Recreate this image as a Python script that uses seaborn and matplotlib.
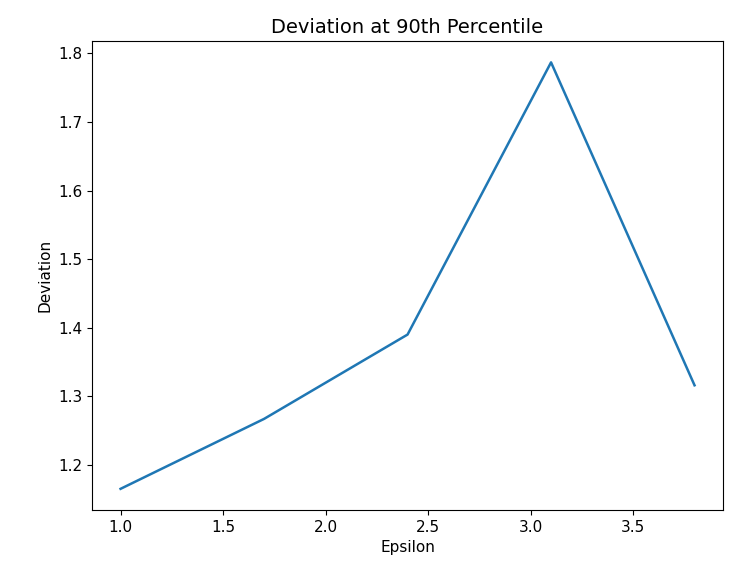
import matplotlib
matplotlib.use("Agg")
import matplotlib.pyplot as plt
import seaborn as sns
import pandas as pd

# values
epsilon = [1.0, 1.7, 2.4, 3.1, 3.8]
deviation = [1.165, 1.267, 1.390, 1.787, 1.316]

df = pd.DataFrame({"Epsilon": epsilon, "Deviation": deviation})

fig = plt.figure(figsize=(7.35, 5.7), dpi=100)
ax = fig.add_axes([0.125, 0.105, 0.859, 0.823])
sns.lineplot(data=df, x="Epsilon", y="Deviation", ax=ax, color="#1f77b4", linewidth=1.8)
ax.set_title("Deviation at 90th Percentile", fontsize=14)
ax.set_xlabel("Epsilon", fontsize=11)
ax.set_ylabel("Deviation", fontsize=11)
ax.tick_params(labelsize=11)

fig.savefig("out.png", dpi=100)
